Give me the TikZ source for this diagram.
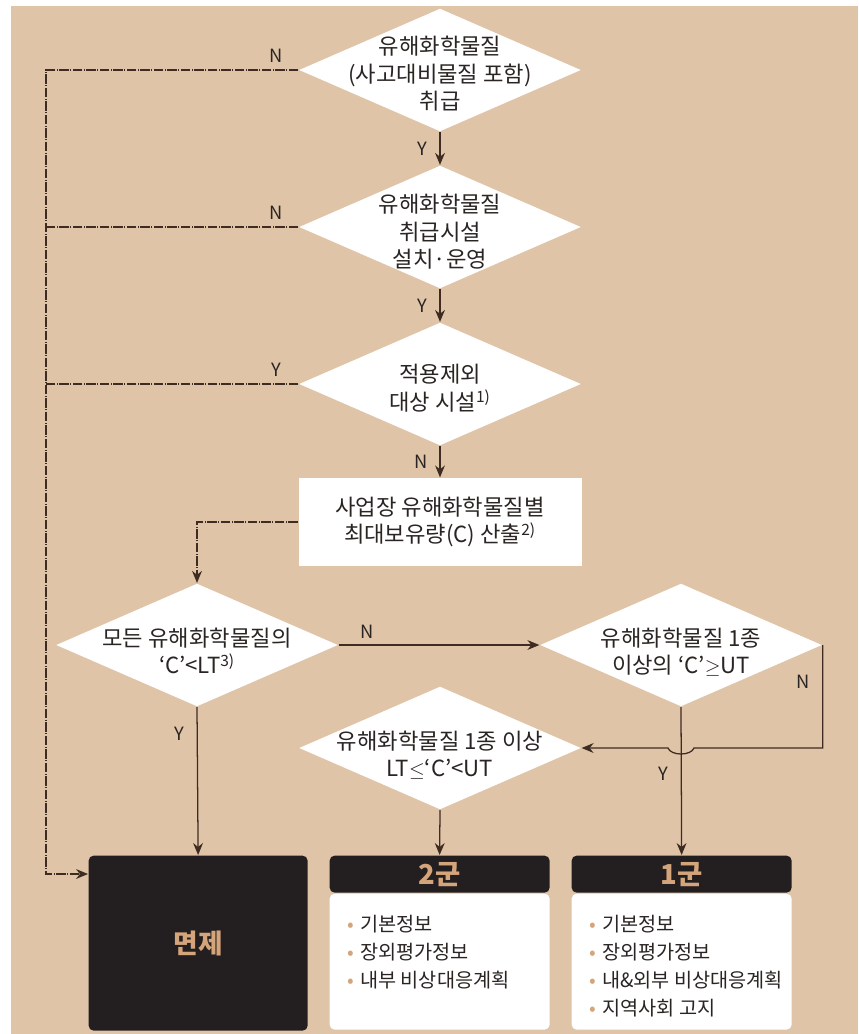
\documentclass[tikz,border=0pt]{standalone}
\usepackage{fontspec}
\setmainfont{Noto Sans CJK KR}
\usetikzlibrary{arrows.meta,positioning,shapes.geometric}
\definecolor{sand}{HTML}{DFC4A8}
\definecolor{ink}{HTML}{3E2C22}
\definecolor{boxblack}{HTML}{231F20}
\definecolor{gold}{HTML}{D4A47A}
\definecolor{txt}{HTML}{2A2522}
\newlength{\pu}
\setlength{\pu}{0.025cm}
\newcommand{\dsize}{\fontsize{15.8}{19.5}\selectfont}
\newcommand{\lsize}{\fontsize{14}{19.8}\selectfont}
\newcommand{\itm}{\textcolor{gold}{•}\hspace{0.3em}}
\tikzset{
  >={Stealth[length=8.5pt,width=7pt]},
  every picture/.append style={line width=0.9pt},
  every node/.append style={text=txt},
}
\tikzset{
  decision/.style={diamond, fill=white, draw=none, inner sep=0pt, minimum width=282\pu, minimum height=123\pu},
  dtext/.style={align=center, font=\dsize, inner sep=0pt},
  arrow/.style={->, draw=ink},
  dashline/.style={draw=ink, line width=0.8pt, dash pattern=on 7pt off 1pt on 0.6pt off 1pt},
  yn/.style={font=\fontsize{13}{15}\selectfont, inner sep=0pt}
}

\begin{document}
\begin{tikzpicture}[
  x=\pu, y=-\pu,
  calcbox/.style={fill=white, minimum width=283\pu, minimum height=88\pu, align=center, font=\dsize, inner sep=0pt},
  exemptbox/.style={fill=boxblack, rounded corners=5\pu, minimum width=219\pu, minimum height=175\pu, inner sep=0pt, text=gold, font=\fontsize{19}{21}\selectfont\bfseries},
  headbox/.style={fill=boxblack, rounded corners=5\pu, minimum width=220\pu, minimum height=37\pu, inner sep=0pt, text=gold, font=\fontsize{19.5}{21}\selectfont\bfseries},
  groupbox/.style={fill=white, rounded corners=5\pu, minimum width=220\pu, minimum height=136\pu, inner sep=0pt},
  itemlist/.style={align=left, font=\lsize, inner sep=0pt}
]

% Background
\fill[white] (0,0) rectangle (858,1034);
\fill[sand] (11,6) rectangle (858,1034);
\useasboundingbox (0,0) rectangle (858,1034);

% Decisions down the middle
\node[decision] (d1) at (440,70) {};
\node[dtext] (d1t) at (440,74) {유해화학물질\\(사고대비물질 포함)\\취급};

\node[decision] (d2) at (440,227) {};
\node[dtext] (d2t) at (440,232) {유해화학물질\\취급시설\\설치·운영};

\node[decision] (d3) at (440,384) {};
\node[dtext] (d3t) at (440,388) {적용제외\\대상 시설\textsuperscript{1)}};

\node[calcbox] (calc) at (440,522) {사업장 유해화학물질별\\최대보유량(C) 산출\textsuperscript{2)}};

% Quantity checks
\node[decision] (d4) at (197,645) {};
\node[dtext] (d4t) at (197,651) {모든 유해화학물질의\\‘C’<LT\textsuperscript{3)}};

\node[decision] (d5) at (681,645) {};
\node[dtext] (d5t) at (681,652) {유해화학물질 1종\\이상의 ‘C’$\geq$UT};

\node[decision] (d6) at (440,748) {};
\node[dtext] (d6t) at (440,755) {유해화학물질 1종 이상\\LT$\leq$‘C’<UT};

% Result boxes
\node[exemptbox, anchor=north west] (ex) at (88,855) {면제};

\node[headbox, anchor=north west] (h2) at (329,855) {2군};
\node[groupbox, anchor=north west] (b2) at (329,893) {};
\node[itemlist, anchor=north west] (l2) at (347,915) {\itm 기본정보\\\itm 장외평가정보\\\itm 내부 비상대응계획};

\node[headbox, anchor=north west] (h1) at (571,855) {1군};
\node[groupbox, anchor=north west] (b1) at (571,893) {};
\node[itemlist, anchor=north west] (l1) at (589,915) {\itm 기본정보\\\itm 장외평가정보\\\itm 내\&외부 비상대응계획\\\itm 지역사회 고지};

% Main flow
\draw[arrow] (d1.south) -- node[yn, left=12\pu] {Y} (d2.north);
\draw[arrow] (d2.south) -- node[yn, left=12\pu] {Y} (d3.north);
\draw[arrow] (d3.south) -- node[yn, left=12\pu] {N} (calc.north);
\draw[arrow] (d4.east) -- node[yn, pos=0.14, above=6\pu] {N} (d5.west);
\draw[arrow] (d4.south) -- node[yn, pos=0.18, left=12\pu] {Y} (ex.north);
\draw[arrow] (d6.south) -- (h2.north);
\draw[arrow] (d5.south) -- node[yn, pos=0.45, left=12\pu] {Y} (h1.north);
\draw[arrow] (d5.east) -- node[yn, pos=0.36, left=12\pu] {N} (d5.east |- d6.east)
  -- ([xshift=13\pu]d5.south |- d6.east) .. controls +(-3,8) and +(3,8) .. ([xshift=-13\pu]d5.south |- d6.east)
  -- (d6.east);

% Exemption bus (dashed)
\coordinate (busend) at (46,874);
\draw[dashline, ->] (d1.west) -- node[yn, pos=0.087, above=7\pu] {N} (d1.west -| busend) -- (busend) -- (busend -| ex.west);
\draw[dashline] (d2.west) -- node[yn, pos=0.087, above=7\pu] {N} (d2.west -| busend);
\draw[dashline] (d3.west) -- node[yn, pos=0.087, above=7\pu] {Y} (d3.west -| busend);
\draw[dashline, ->] (calc.west) -| (d4.north);

\end{tikzpicture}
\end{document}
